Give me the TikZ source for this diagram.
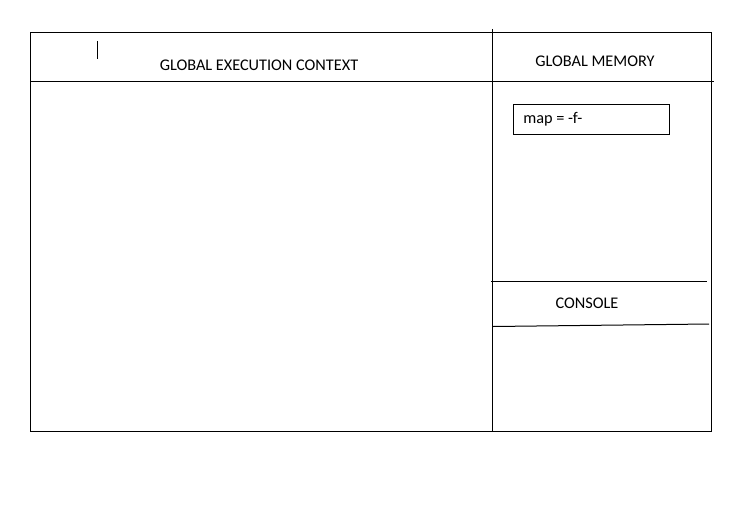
\documentclass[tikz,border=0pt]{standalone}
\usepackage{fontspec}
\setmainfont{Carlito}
\begin{document}
\begin{tikzpicture}[x=0.75pt,y=-0.75pt,
  rule/.style={draw=black,line width=0.75pt},
  label/.style={font=\fontsize{12.2}{14}\selectfont,inner sep=0pt,text=black}]
\useasboundingbox (0,0) rectangle (730,510);
\fill[white] (0,0) rectangle (730,510);
% outer frame
\draw[rule] (30,33) rectangle (711,431);
% vertical divider
\coordinate (vtop) at (492,29);
\coordinate (vbot) at (492,431);
\draw[rule] (vtop) -- (vbot);
% header line
\coordinate (hl) at (30,81);
\coordinate (hr) at (714,81);
\draw[rule] (hl) -- (hr);
% cursor mark
\coordinate (ct) at (97,41);
\coordinate (cb) at (97,59);
\draw[rule] (ct) -- (cb);
% titles
\node[label] (gec) at (259,65) {GLOBAL EXECUTION CONTEXT};
\node[label] (gm) at (595,61) {GLOBAL MEMORY};
% map box
\node[rule,minimum width=156*0.75pt,minimum height=30*0.75pt,inner sep=0pt] (mapbox) at (591,119) {};
\node[label,anchor=west] (map) at (523,119.5) {map = -f-};
% console
\coordinate (c1l) at (491,281);
\coordinate (c1r) at (707,281);
\draw[rule] (c1l) -- (c1r);
\coordinate (c2l) at (493,326.5);
\coordinate (c2r) at (709,324);
\draw[rule] (c2l) -- (c2r);
\node[label] (console) at (587,303) {CONSOLE};
\end{tikzpicture}
\end{document}
